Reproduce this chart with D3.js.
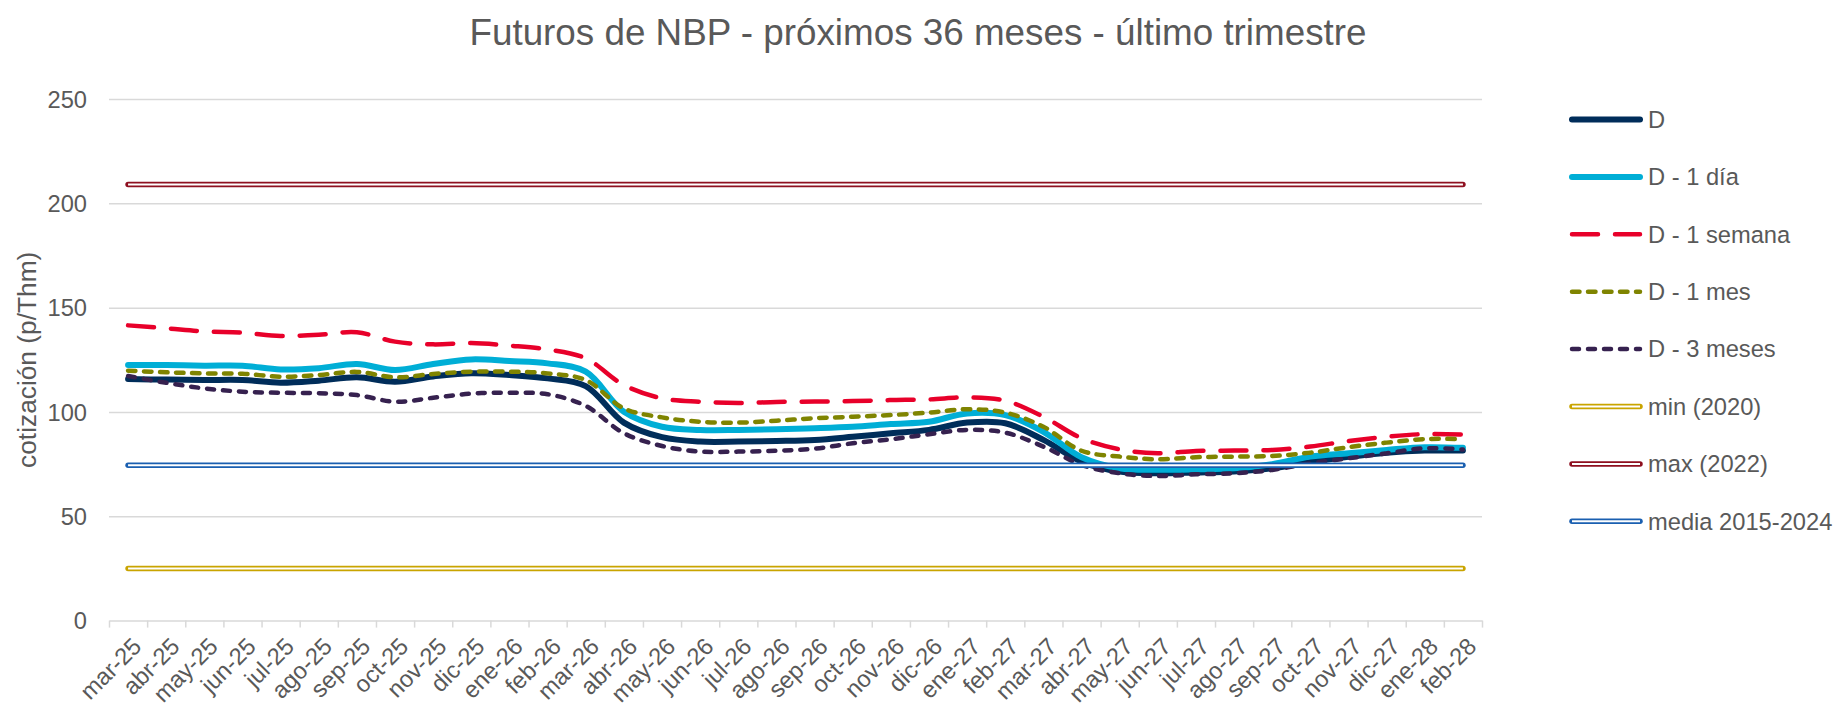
<!DOCTYPE html>
<html>
<head>
<meta charset="utf-8">
<script src="https://cdn.jsdelivr.net/npm/d3@7"></script>
<style>
  body { margin: 0; background: #fff; }
  svg text { font-family: "Liberation Sans", Arial, sans-serif; fill: #595959; }
</style>
</head>
<body>
<div id="chart"></div>
<script>
const months = ["mar-25","abr-25","may-25","jun-25","jul-25","ago-25","sep-25","oct-25","nov-25","dic-25","ene-26","feb-26",
  "mar-26","abr-26","may-26","jun-26","jul-26","ago-26","sep-26","oct-26","nov-26","dic-26","ene-27","feb-27",
  "mar-27","abr-27","may-27","jun-27","jul-27","ago-27","sep-27","oct-27","nov-27","dic-27","ene-28","feb-28"];

const dHoy = [115.8,115.5,115.3,115.3,114,115,116.6,114.5,117,118.6,117.7,116.1,
  112.4,94.9,87.9,85.8,85.8,86.1,86.6,88.1,89.8,91.4,94.9,94.6,
  86.6,76.2,71.4,70.6,71,71.5,73,76,78.5,80.5,81.5,81.5];
const d1dia = [122.5,122.5,122.2,122.2,120.4,121,123,120.1,123,125.2,124.4,123.3,
  119.3,100.1,92.9,91.4,91.4,91.7,92.2,92.9,94.2,95.3,99.3,98.5,
  90.5,78.3,73,72.3,72.5,73,75,78.6,80.2,81.8,83.1,82.8];
const d1semana = [141.5,140.1,138.6,138,136.4,137,138.2,133.7,132.4,133,131.8,130,
  125.7,112.9,106.5,104.9,104.3,104.8,105,105.2,105.7,106,107,105.4,
  97.7,87.4,82.1,80.2,81.3,81.5,81.8,83.4,86.1,88.1,89.4,89.2];
const d1mes = [119.8,119,118.5,118.3,116.9,117.7,119.2,116.6,118.2,119.3,119.3,118.5,
  115.3,101.7,97.4,95.3,94.9,95.8,97,97.7,98.5,99.7,101.3,99.7,
  92.9,81.4,78.6,77.3,78.3,78.6,78.9,80.5,83.1,85.3,87,87];
const d3meses = [117.2,114,111.3,109.7,109.2,109,108.1,104.9,106.8,108.8,109.2,108.5,
  102.9,89.8,83.7,81,81,81.4,82.4,85,86.9,89.3,91.4,90.1,
  83.4,74.6,70.6,69.3,70.1,70.6,72.2,75.4,77.8,80.2,82.6,82];

const minRef = 25, maxRef = 209, mediaRef = 74.5;
const yTicks = [0, 50, 100, 150, 200, 250];

const W = 1836, H = 706;
const plot = { left: 109, right: 1482, top: 99, bottom: 620.6 };

const svg = d3.select("#chart").append("svg").attr("width", W).attr("height", H);

const x = d3.scaleBand().domain(months).range([plot.left, plot.right]).padding(0);
const xi = d3.scaleLinear().domain([0, months.length]).range([plot.left, plot.right]);
const y = d3.scaleLinear().domain([0, 250]).range([plot.bottom, plot.top]);
const cx = m => x(m) + x.bandwidth() / 2;

// gridlines
svg.append("g")
  .attr("transform", "translate(" + plot.left + ",0)")
  .call(d3.axisLeft(y).tickValues(yTicks.slice(1)).tickSize(-(plot.right - plot.left)).tickFormat(""))
  .call(g => g.select(".domain").remove())
  .call(g => g.selectAll("line").attr("stroke", "#d9d9d9").attr("stroke-width", 1.5));

// y labels
svg.append("g")
  .attr("transform", "translate(" + (plot.left - 22) + ",0)")
  .call(d3.axisLeft(y).tickValues(yTicks).tickSize(0).tickPadding(0))
  .call(g => g.select(".domain").remove())
  .call(g => g.selectAll("text").style("font-size", "23.7px").attr("dy", "0.35em"));

// x axis with ticks on boundaries
svg.append("g")
  .attr("transform", "translate(0," + plot.bottom + ")")
  .call(d3.axisBottom(xi).tickValues(d3.range(months.length + 1)).tickSize(7).tickSizeOuter(0).tickFormat(""))
  .call(g => g.select(".domain").attr("stroke", "#d9d9d9").attr("stroke-width", 1.5))
  .call(g => g.selectAll("line").attr("stroke", "#d9d9d9").attr("stroke-width", 1.5));

svg.append("g").selectAll("text")
  .data(months)
  .enter()
  .append("text")
  .attr("transform", d => "translate(" + (cx(d) + 9) + ",642) rotate(-45)")
  .attr("text-anchor", "end")
  .attr("dy", "0.35em")
  .style("font-size", "23.7px")
  .text(d => d);

// title + axis title
svg.append("text")
  .attr("x", 918).attr("y", 45)
  .attr("text-anchor", "middle")
  .style("font-size", "36.8px")
  .text("Futuros de NBP - próximos 36 meses - último trimestre");

svg.append("text")
  .attr("transform", "translate(27," + (plot.top + plot.bottom) / 2 + ") rotate(-90)")
  .attr("text-anchor", "middle")
  .attr("dy", "0.35em")
  .style("font-size", "26.3px")
  .text("cotización (p/Thm)");

const series = [
  { name: "D", values: dHoy, color: "#002D5A", width: 6, dash: null },
  { name: "D - 1 día", values: d1dia, color: "#00AED6", width: 6, dash: null },
  { name: "D - 1 semana", values: d1semana, color: "#E8002A", width: 4.5, dash: "26,17" },
  { name: "D - 1 mes", values: d1mes, color: "#7F8400", width: 4.5, dash: "7.5,8.5" },
  { name: "D - 3 meses", values: d3meses, color: "#36214F", width: 4.5, dash: "7,9" }
];
const refs = [
  { name: "min (2020)", value: minRef, color: "#C9A400" },
  { name: "max (2022)", value: maxRef, color: "#8E0F1F" },
  { name: "media 2015-2024", value: mediaRef, color: "#1A5FB0" }
];

const line = d3.line()
  .x((d, i) => cx(months[i]))
  .y(d => y(d))
  .curve(d3.curveCatmullRom);

series.forEach(s => {
  svg.append("path")
    .datum(s.values)
    .attr("d", line)
    .attr("fill", "none")
    .attr("stroke", s.color)
    .attr("stroke-width", s.width)
    .attr("stroke-linecap", "round")
    .attr("stroke-linejoin", "round")
    .attr("stroke-dasharray", s.dash);
});

// double lines for reference levels
function doubleLine(g, x1, x2, yy, color) {
  g.append("line").attr("x1", x1).attr("x2", x2).attr("y1", yy).attr("y2", yy)
    .attr("stroke", color).attr("stroke-width", 5.5).attr("stroke-linecap", "round");
  g.append("line").attr("x1", x1).attr("x2", x2).attr("y1", yy).attr("y2", yy)
    .attr("stroke", "#fff").attr("stroke-width", 2).attr("stroke-linecap", "butt");
}

refs.forEach(r => {
  doubleLine(svg, cx(months[0]), cx(months[months.length - 1]), y(r.value), r.color);
});

// legend
const legend = svg.append("g");
const items = series.concat(refs);
items.forEach((it, i) => {
  const ly = 119.5 + i * 57.4;
  if (it.values) {
    legend.append("line")
      .attr("x1", 1572).attr("x2", 1640).attr("y1", ly).attr("y2", ly)
      .attr("stroke", it.color).attr("stroke-width", it.width)
      .attr("stroke-linecap", "round")
      .attr("stroke-dasharray", it.dash);
  } else {
    doubleLine(legend, 1572, 1640, ly, it.color);
  }
  legend.append("text")
    .attr("x", 1648).attr("y", ly)
    .attr("dy", "0.35em")
    .style("font-size", "23.7px")
    .text(it.name);
});
</script>
</body>
</html>
